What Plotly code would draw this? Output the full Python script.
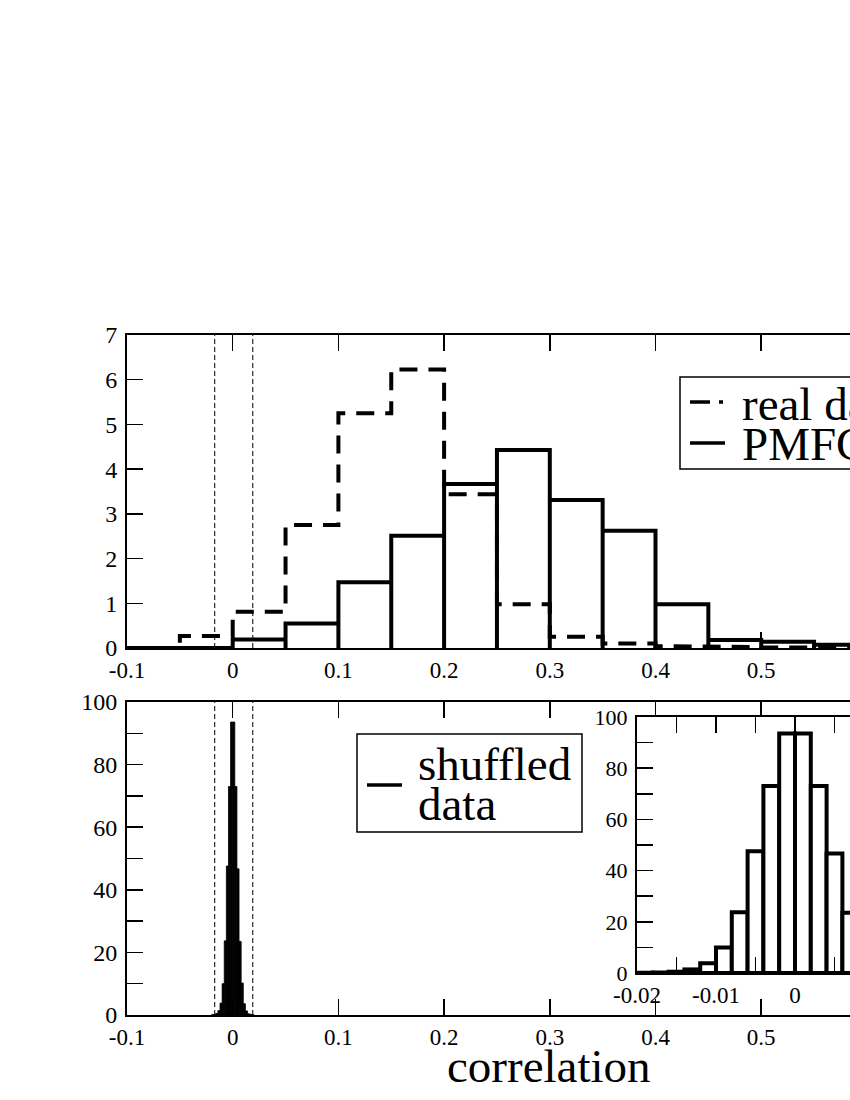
import plotly.graph_objects as go

W, H = 850, 1100
FONT = "Liberation Serif"

# ---------------- data ----------------
# top panel: histogram bins (width 0.05)
top_edges = [-0.10, -0.05, 0.00, 0.05, 0.10, 0.15, 0.20, 0.25, 0.30, 0.35,
             0.40, 0.45, 0.50, 0.55, 0.60]
real_data = [0.0, 0.27, 0.81, 2.75, 5.25, 6.23, 3.44, 0.98, 0.25, 0.10,
             0.04, 0.02, 0.01, 0.01]
pmfc = [0.0, 0.0, 0.19, 0.55, 1.47, 2.51, 3.67, 4.43, 3.31, 2.62,
        0.98, 0.18, 0.14, 0.07]

# bottom panel / inset: shuffled data (bin width 0.002)
shuf_edges = [-0.020, -0.018, -0.016, -0.014, -0.012, -0.010, -0.008, -0.006,
              -0.004, -0.002, 0.000, 0.002, 0.004, 0.006, 0.008, 0.010,
              0.012, 0.014, 0.016, 0.018, 0.020]
shuffled = [0.1, 0.2, 0.5, 1.4, 3.8, 10.0, 23.7, 47.6, 73.0, 93.6,
            93.6, 73.0, 46.7, 23.5, 10.2, 3.6, 1.3, 0.4, 0.2, 0.1]

# significance thresholds (thin dashed verticals)
sig_lines = [-0.017, 0.019]

# tick labels
main_xticks = [-0.1, 0.0, 0.1, 0.2, 0.3, 0.4, 0.5, 0.6, 0.7]
main_xlabels = ["-0.1", "0", "0.1", "0.2", "0.3", "0.4", "0.5", "0.6", "0.7"]
top_yticks = [0, 1, 2, 3, 4, 5, 6, 7]
bot_yticks = [0, 20, 40, 60, 80, 100]
inset_xticks = [-0.02, -0.01, 0.0, 0.01, 0.02]
inset_xlabels = ["-0.02", "-0.01", "0", "0.01", "0.02"]


# ---------------- helpers ----------------
def px(x):
    return x / W


def py(y):
    return 1 - y / H


def outline_path(edges, vals):
    xs, ys = [], []
    for i, v in enumerate(vals):
        xs += [edges[i], edges[i], edges[i + 1], edges[i + 1]]
        ys += [0, v, v, 0]
    return xs, ys


def step_path(edges, vals):
    xs, ys = [edges[0]], [0]
    for i, v in enumerate(vals):
        xs += [edges[i], edges[i + 1]]
        ys += [v, v]
    xs.append(edges[-1])
    ys.append(0)
    return xs, ys


fig = go.Figure()

# top panel: real data (dashed step)
rx, ry = step_path(top_edges, real_data)
fig.add_trace(go.Scatter(x=rx, y=ry, mode="lines", xaxis="x", yaxis="y",
                         line=dict(color="black", width=4, dash="18px,11px"),
                         showlegend=False, hoverinfo="skip"))
# top panel: PMFC (solid bar outlines)
sx, sy = outline_path(top_edges, pmfc)
fig.add_trace(go.Scatter(x=sx, y=sy, mode="lines", xaxis="x", yaxis="y",
                         line=dict(color="black", width=4),
                         showlegend=False, hoverinfo="skip"))

# bottom panel: shuffled (filled black bars)
centers = [(shuf_edges[i] + shuf_edges[i + 1]) / 2 for i in range(len(shuffled))]
widths = [shuf_edges[i + 1] - shuf_edges[i] for i in range(len(shuffled))]
fig.add_trace(go.Bar(x=centers, y=shuffled, width=widths, xaxis="x2", yaxis="y2",
                     marker=dict(color="black", line=dict(color="black", width=0.8)),
                     showlegend=False, hoverinfo="skip"))

# inset: shuffled (white bars with thick outlines)
fig.add_trace(go.Bar(x=centers, y=shuffled, width=widths, xaxis="x3", yaxis="y3",
                     marker=dict(color="white", line=dict(color="black", width=4)),
                     showlegend=False, hoverinfo="skip"))

# thin dashed vertical lines
shapes = []
for xr, yr in (("x", "y"), ("x2", "y2")):
    for xv in sig_lines:
        shapes.append(dict(type="line", xref=xr, yref=yr + " domain",
                           x0=xv, x1=xv, y0=0, y1=1,
                           line=dict(color="black", width=1, dash="5px,3px")))

# legend boxes and samples (paper coords)
shapes += [
    dict(type="rect", xref="paper", yref="paper",
         x0=px(680), x1=px(870), y0=py(469), y1=py(377),
         line=dict(color="black", width=1.5), fillcolor="white", layer="above"),
    dict(type="line", xref="paper", yref="paper",
         x0=px(690), x1=px(710), y0=py(402), y1=py(402),
         line=dict(color="black", width=3.5)),
    dict(type="line", xref="paper", yref="paper",
         x0=px(719), x1=px(723), y0=py(402), y1=py(402),
         line=dict(color="black", width=3.5)),
    dict(type="line", xref="paper", yref="paper",
         x0=px(690), x1=px(725), y0=py(443), y1=py(443),
         line=dict(color="black", width=3.5)),
    dict(type="rect", xref="paper", yref="paper",
         x0=px(357), x1=px(582), y0=py(832), y1=py(734),
         line=dict(color="black", width=1.5), fillcolor="rgba(0,0,0,0)"),
    dict(type="line", xref="paper", yref="paper",
         x0=px(367), x1=px(402), y0=py(785), y1=py(785),
         line=dict(color="black", width=3.5)),
]

annotations = [
    dict(text="real data", x=px(740), y=py(404), xref="paper", yref="paper",
         xanchor="left", yanchor="middle", showarrow=False,
         font=dict(family=FONT, size=47, color="black")),
    dict(text="PMFC", x=px(740), y=py(444), xref="paper", yref="paper",
         xanchor="left", yanchor="middle", showarrow=False,
         font=dict(family=FONT, size=47, color="black")),
    dict(text="shuffled", x=px(416), y=py(764), xref="paper", yref="paper",
         xanchor="left", yanchor="middle", showarrow=False,
         font=dict(family=FONT, size=47, color="black")),
    dict(text="data", x=px(416), y=py(804), xref="paper", yref="paper",
         xanchor="left", yanchor="middle", showarrow=False,
         font=dict(family=FONT, size=47, color="black")),
    dict(text="correlation", x=px(549), y=py(1066), xref="paper", yref="paper",
         xanchor="center", yanchor="middle", showarrow=False,
         font=dict(family=FONT, size=47, color="black")),
]

x_main_range = [-0.1, -0.1 + (850 - 127) / 1057]
x_inset_range = [-0.02, -0.02 + (850 - 637) / 7900]

common_x = dict(showline=True, linecolor="black", linewidth=2, mirror="ticks",
                ticks="inside", ticklen=16, tickwidth=1.5, tickcolor="black",
                showgrid=False, zeroline=False, automargin=False,
                tickfont=dict(family=FONT, size=23, color="black"))
common_y = dict(showline=True, linecolor="black", linewidth=2, mirror=False,
                ticks="inside", ticklen=16, tickwidth=1.5, tickcolor="black",
                showgrid=False, zeroline=False, automargin=False,
                ticklabelstandoff=3,
                tickfont=dict(family=FONT, size=24, color="black"))

fig.update_layout(
    template="none",
    width=W, height=H,
    margin=dict(l=0, r=0, t=0, b=0, pad=0),
    paper_bgcolor="white", plot_bgcolor="white",
    barmode="overlay", bargap=0,
    showlegend=False,
    xaxis=dict(common_x, domain=[px(127), 1], range=x_main_range, anchor="y",
               tickmode="array", tickvals=main_xticks, ticktext=main_xlabels),
    yaxis=dict(common_y, domain=[py(648), py(335)], range=[0, 7], anchor="x",
               tickmode="array", tickvals=top_yticks,
               ticktext=[str(v) for v in top_yticks]),
    xaxis2=dict(common_x, domain=[px(127), 1], range=x_main_range, anchor="y2",
                tickmode="array", tickvals=main_xticks, ticktext=main_xlabels),
    yaxis2=dict(common_y, domain=[py(1015), py(702)], range=[0, 100], anchor="x2",
                tickmode="array", tickvals=bot_yticks,
                ticktext=[str(v) for v in bot_yticks],
                minor=dict(ticks="inside", ticklen=16, tickwidth=1.5,
                           tickcolor="black", dtick=10, tick0=0)),
    xaxis3=dict(common_x, domain=[px(637), 1], range=x_inset_range, anchor="y3",
                tickmode="array", tickvals=inset_xticks, ticktext=inset_xlabels,
                minor=dict(ticks="inside", ticklen=16, tickwidth=1.5,
                           tickcolor="black", dtick=0.005, tick0=0),
                tickfont=dict(family=FONT, size=23, color="black")),
    yaxis3=dict(common_y, domain=[py(973), py(717)], range=[0, 100], anchor="x3",
                tickmode="array", tickvals=bot_yticks,
                ticktext=[str(v) for v in bot_yticks],
                minor=dict(ticks="inside", ticklen=16, tickwidth=1.5,
                           tickcolor="black", dtick=10, tick0=0),
                tickfont=dict(family=FONT, size=22, color="black")),
    shapes=shapes,
    annotations=annotations,
)

fig.write_html(
    "out.html",
    config={"displayModeBar": False, "staticPlot": True},
    post_script="document.body.style.margin='0';document.body.style.overflow='hidden';",
)
